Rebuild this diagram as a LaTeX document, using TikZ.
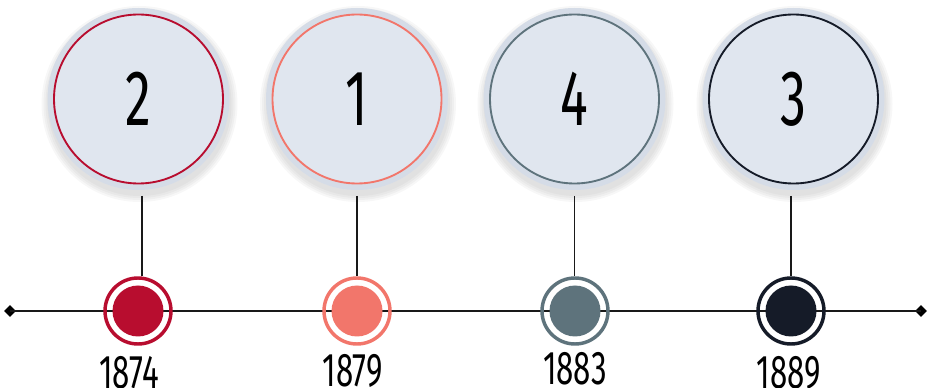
\documentclass[tikz,border=0pt]{standalone}
\usepackage{fontspec}
\newfontfamily\numfont[FakeStretch=0.66]{Fira Sans}
\usetikzlibrary{shapes.geometric}
\definecolor{cRed}{HTML}{B80D2F}
\definecolor{cSalmon}{HTML}{F2766B}
\definecolor{cSlate}{HTML}{5E737C}
\definecolor{cDark}{HTML}{151B28}
\definecolor{bigOuter}{HTML}{D5DCE7}
\definecolor{bigInner}{HTML}{E0E6EF}
\tikzset{
  bigcirc/.style={circle, minimum size=#1, inner sep=0pt, fill=bigOuter},
  ringc/.style={circle, draw=#1, line width=1.4pt, fill=bigInner, minimum size=169*0.75pt, inner sep=0pt,
     font=\numfont\fontsize{59}{59}\selectfont, text=black},
  dotring/.style={circle, draw=#1, line width=2.6pt, minimum size=66*0.75pt, inner sep=0pt},
  dotfill/.style={circle, fill=#1, minimum size=51*0.75pt, inner sep=0pt},
  year/.style={font=\numfont\fontsize{35.5}{35.5}\selectfont, inner sep=0pt, text=black},
  axis/.style={line width=1.8pt, draw=black!90},
  stem/.style={line width=1.4pt, draw=black!90},
  endmark/.style={diamond, fill=black, minimum size=12*0.75pt, inner sep=0pt}
}
\begin{document}
\begin{tikzpicture}[x=0.75pt,y=-0.75pt]
\useasboundingbox (0,0) rectangle (932,388);
% axis
\node[endmark] (L) at (10,311) {};
\node[endmark] (R) at (921,311) {};
\draw[axis] (L.center) -- (R.center);
% big circles with soft shadow
\foreach \cx/\nm in {138.5/a,357/b,574.5/c,793.5/d}{
  \foreach \r in {98,96,94,92}{
    \fill[black,opacity=0.03] (\cx+1,104) circle (\r);
  }
  \node[bigcirc=182*0.75pt] (O\nm) at (\cx,99) {};
}
\node[ringc=cRed] (Ba) at (138.5,99) {2};
\node[ringc=cSalmon] (Bb) at (357,99) {1};
\node[ringc=cSlate] (Bc) at (574.5,99) {4};
\node[ringc=cDark] (Bd) at (793.5,99) {3};
% small markers
\node[dotring=cRed] (Sa) at (138,311) {};
\node[dotfill=cRed] at (138,311) {};
\node[dotring=cSalmon] (Sb) at (357,311) {};
\node[dotfill=cSalmon] at (357,311) {};
\node[dotring=cSlate] (Sc) at (575,311) {};
\node[dotfill=cSlate] at (575,311) {};
\node[dotring=cDark] (Sd) at (791,311) {};
\node[dotfill=cDark] at (791,311) {};
% stems
\coordinate (Ta) at (142,196);
\coordinate (Tb) at (357,196);
\coordinate (Tc) at (574.5,196);
\coordinate (Td) at (791,196);
\draw[stem] (Ta) -- (Ta |- Sa.north);
\draw[stem] (Tb) -- (Tb |- Sb.north);
\draw[stem] (Tc) -- (Tc |- Sc.north);
\draw[stem] (Td) -- (Td |- Sd.north);
% years
\node[year] (Ya) at (129,373) {1874};
\node[year] (Yb) at (352.5,371) {1879};
\node[year] (Yc) at (575,369) {1883};
\node[year] (Yd) at (788.5,373) {1889};
\end{tikzpicture}
\end{document}
